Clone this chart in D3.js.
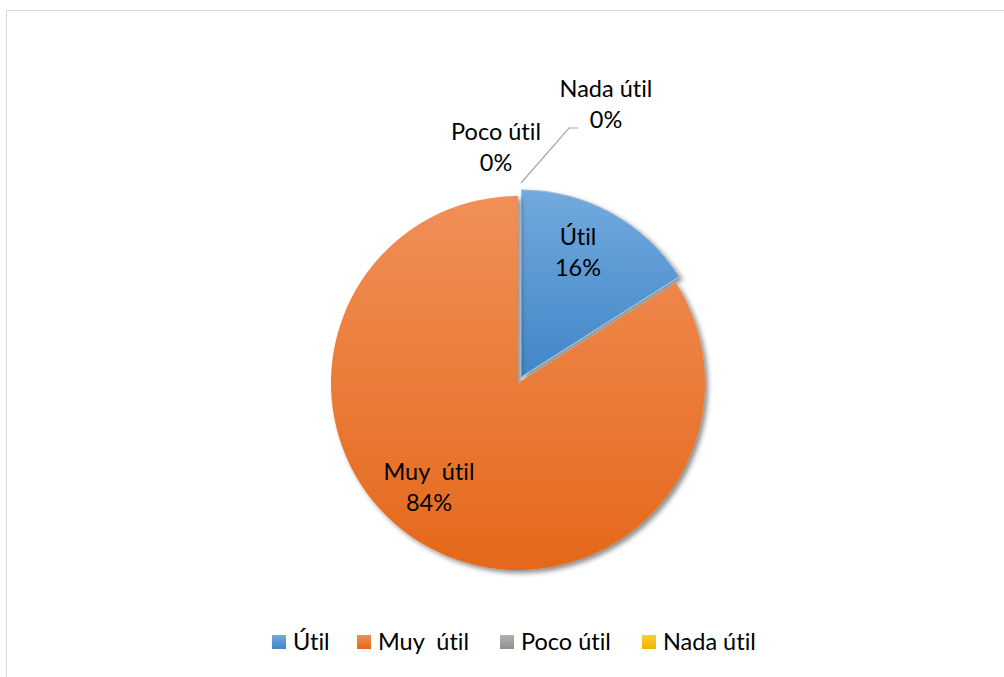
<!DOCTYPE html>
<html><head><meta charset="utf-8">
<script src="https://cdn.jsdelivr.net/npm/d3@7"></script>
<style>
html,body{margin:0;padding:0;background:#fff;}
svg{display:block;font-family:"Lato","Open Sans",sans-serif;}
svg text{font-variant-ligatures:none;font-feature-settings:"liga" 0,"clig" 0;}
</style></head>
<body>
<svg id="chart" width="1004" height="677"></svg>
<script>
const categories = ["Útil", "Muy  útil", "Poco útil", "Nada útil"];
const values = [16, 84, 0, 0];
const percentLabels = ["16%", "84%", "0%", "0%"];
const colorsTop = ["#72aade", "#f18f58", "#b0b0b0", "#ffcb2e"];
const colorsBottom = ["#4185c8", "#e4681a", "#8f8f8f", "#f0b400"];

const svg = d3.select("#chart");
const W = 1004, H = 677;
const cx = 518, cy = 383, R = 187;

// frame
svg.append("line").attr("x1", 6.5).attr("y1", 10.5).attr("x2", W).attr("y2", 10.5).attr("stroke", "#d9d9d9");
svg.append("line").attr("x1", 6.5).attr("y1", 10.5).attr("x2", 6.5).attr("y2", H).attr("stroke", "#d9d9d9");

const defs = svg.append("defs");
categories.forEach((c, i) => {
  const g = defs.append("linearGradient").attr("id", "grad" + i)
    .attr("x1", 0).attr("y1", 0).attr("x2", 0).attr("y2", 1);
  g.append("stop").attr("offset", "0%").attr("stop-color", colorsTop[i]);
  g.append("stop").attr("offset", "100%").attr("stop-color", colorsBottom[i]);
});
const f = defs.append("filter").attr("id", "shadow").attr("x", "-20%").attr("y", "-20%").attr("width", "140%").attr("height", "140%");
f.append("feDropShadow").attr("dx", 3).attr("dy", 3).attr("stdDeviation", 2.5).attr("flood-color", "#000").attr("flood-opacity", 0.45);

const pie = d3.pie().sort(null).value(d => d)(values);
const arc = d3.arc().innerRadius(0).outerRadius(R);
const explode = [7, 0, 0, 0];

const g = svg.append("g").attr("transform", `translate(${cx},${cy})`);
g.selectAll("path.slice").data(pie).enter().append("path")
  .attr("class", "slice")
  .attr("d", arc)
  .attr("fill", (d, i) => `url(#grad${i})`)
  .attr("stroke", (d, i) => i === 0 ? "#a9bdd1" : "none")
  .attr("stroke-width", 1)
  .attr("filter", "url(#shadow)")
  .attr("transform", (d, i) => {
    const a = (d.startAngle + d.endAngle) / 2;
    return `translate(${Math.sin(a) * explode[i]},${-Math.cos(a) * explode[i]})`;
  });

// labels (baseline of first line, relative to pie centre)
const fs = 23.5;
const labelPos = [
  [60, -138],  // Útil
  [-89, 97],   // Muy útil
  [-22, -243], // Poco útil
  [88, -286]   // Nada útil
];
// leader line for Nada útil
g.append("polyline")
  .attr("points", [[3, -200], [51, -255], [60, -255]].map(p => p.join(",")).join(" "))
  .attr("fill", "none").attr("stroke", "#a6a6a6").attr("stroke-width", 1.2);

pie.forEach((d, i) => {
  const t = g.append("text").attr("text-anchor", "middle").attr("font-size", fs).attr("fill", "#000")
    .attr("xml:space", "preserve").style("white-space", "pre")
    .attr("transform", `translate(${labelPos[i][0]},${labelPos[i][1]})`);
  t.append("tspan").attr("x", 0).attr("y", 0).text(categories[i]);
  t.append("tspan").attr("x", 0).attr("y", 31).text(percentLabels[i]);
});

// legend
const legendX = [272, 357, 500, 642];
const lgG = svg.append("g");
categories.forEach((c, i) => {
  lgG.append("rect").attr("x", legendX[i]).attr("y", 635).attr("width", 14).attr("height", 14)
    .attr("fill", `url(#grad${i})`);
  lgG.append("text").attr("x", legendX[i] + 21).attr("y", 650).attr("font-size", fs).attr("fill", "#000")
    .attr("xml:space", "preserve").style("white-space", "pre").text(c);
});
</script>
</body></html>
